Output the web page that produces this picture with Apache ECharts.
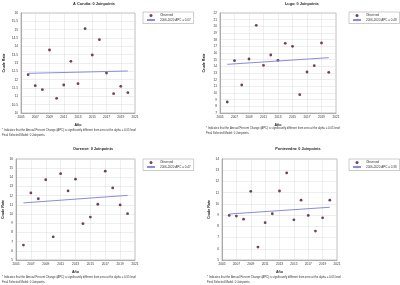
<!DOCTYPE html>
<html>
<head>
<meta charset="utf-8">
<script src="https://cdn.jsdelivr.net/npm/echarts@6/dist/echarts.min.js"></script>
<style>
  html, body { margin: 0; padding: 0; background: #fff; }
  #chart { width: 400px; height: 285px; }
</style>
</head>
<body>
<div id="chart"></div>
<script>
// observed crude rates, 2006-2020
const years = [2006, 2007, 2008, 2009, 2010, 2011, 2012, 2013, 2014, 2015, 2016, 2017, 2018, 2019, 2020];
const coruna = [12.3, 11.64, 11.4, 13.78, 10.88, 11.68, 13.1, 11.76, 15.06, 13.48, 14.4, 12.4, 11.16, 11.6, 11.22];
const lugo = [8.65, 14.85, 11.2, 15.1, 20.15, 14.15, 15.7, 14.9, 17.45, 17.0, 9.75, 13.15, 14.1, 17.5, 13.1];
const ourense = [6.63, 12.3, 11.67, 13.74, 7.52, 14.4, 12.52, 13.8, 8.96, 9.67, 11.07, 14.67, 12.85, 11.0, 10.04];
const pontevedra = [8.97, 8.91, 8.64, 11.12, 6.15, 8.33, 9.12, 11.15, 12.76, 8.58, 10.33, 8.97, 7.58, 8.76, 10.33];

const titles = ['A Coruña: 0 Joinpoints', 'Lugo: 0 Joinpoints', 'Ourense: 0 Joinpoints', 'Pontevedra: 0 Joinpoints'];
const apcNames = ['2006-2020 APC = 0.07', '2006-2020 APC = 0.48', '2006-2020 APC = 0.47', '2006-2020 APC = 0.38'];
// fitted line ends (2006 and 2020)
const trendStart = [12.38, 14.3, 11.22, 9.1];
const trendEnd = [12.52, 15.3, 12.04, 9.7];
const yMin = [10, 7, 5, 5];
const yMax = [16, 22, 16, 14];
const yStep = [0.5, 1, 1, 1];

const panels = [coruna, lugo, ourense, pontevedra];

// layout of the 4 panels
const grids = [
  { left: 21, top: 13, width: 114, height: 100 },
  { left: 220, top: 13, width: 116, height: 100 },
  { left: 16, top: 159, width: 119, height: 101 },
  { left: 222, top: 159, width: 115, height: 101 }
];
const titlePos = [[94, 2], [302, 2], [93, 147], [298, 147]];
const legendPos = [[143, 12, 54], [349, 12, 49], [143, 159, 52], [349, 159, 46]];
const notePos = [[2, 128], [206, 126], [2, 275], [207, 275]];

const font = 'Liberation Sans, Arial, sans-serif';
const dotColor = '#4a1530';
const lineColor = '#8c8cd8';

const chart = echarts.init(document.getElementById('chart'));

const option = {
  backgroundColor: '#fff',
  animation: false,
  textStyle: { fontFamily: font },
  title: titles.map((t, i) => ({
    text: t,
    left: titlePos[i][0],
    top: titlePos[i][1],
    textAlign: 'center',
    padding: 0,
    textStyle: { fontSize: 3.8, fontWeight: 'bold', color: '#222', fontFamily: font }
  })),
  grid: grids.map(g => Object.assign({ show: true, borderColor: '#999', borderWidth: 0.6, backgroundColor: '#fff' }, g)),
  xAxis: grids.map((g, i) => ({
    type: 'value',
    gridIndex: i,
    min: 2005,
    max: 2021,
    interval: 2,
    name: 'Año',
    nameLocation: 'middle',
    nameGap: 10,
    nameTextStyle: { fontSize: 3.6, fontWeight: 'bold', color: '#222' },
    axisLine: { lineStyle: { color: '#888', width: 0.6 } },
    axisTick: { show: false },
    axisLabel: { fontSize: 3.2, color: '#333', margin: 3, formatter: v => String(v) },
    splitLine: { show: true, lineStyle: { color: '#dcdcdc', width: 0.5 } }
  })),
  yAxis: grids.map((g, i) => ({
    type: 'value',
    gridIndex: i,
    min: yMin[i],
    max: yMax[i],
    interval: yStep[i],
    name: 'Crude Rate',
    nameLocation: 'middle',
    nameGap: i === 0 ? 15 : (i === 1 ? 14 : 11),
    nameRotate: 90,
    nameTextStyle: { fontSize: 3.6, fontWeight: 'bold', color: '#222' },
    axisLine: { show: true, lineStyle: { color: '#888', width: 0.6 } },
    axisTick: { show: false },
    axisLabel: { fontSize: 3.2, color: '#333', margin: 3 },
    splitLine: { show: true, lineStyle: { color: '#dcdcdc', width: 0.5 } }
  })),
  legend: legendPos.map((p, i) => ({
    left: p[0],
    top: p[1],
    width: p[2],
    orient: 'vertical',
    itemWidth: 8,
    itemHeight: 3,
    itemGap: 1.5,
    padding: [2, 3, 2, 3],
    borderColor: '#999',
    borderWidth: 0.5,
    textStyle: { fontSize: 3, color: '#333' },
    data: ['Observed', apcNames[i]]
  })),
  graphic: notePos.map(p => ({
    type: 'text',
    left: p[0],
    top: p[1],
    style: {
      text: '* Indicates that the Annual Percent Change (APC) is significantly different from zero at the alpha = 0.05 level\nFinal Selected Model: 0 Joinpoints.',
      fontSize: 2.8,
      lineHeight: 5,
      fill: '#333',
      fontFamily: font
    }
  })),
  series: []
};

panels.forEach((vals, i) => {
  option.series.push({
    name: 'Observed',
    type: 'scatter',
    xAxisIndex: i,
    yAxisIndex: i,
    symbol: 'circle',
    symbolSize: 2.8,
    itemStyle: { color: dotColor },
    data: years.map((y, k) => [y, vals[k]])
  });
  option.series.push({
    name: apcNames[i],
    type: 'line',
    xAxisIndex: i,
    yAxisIndex: i,
    symbol: 'none',
    lineStyle: { color: lineColor, width: 1 },
    itemStyle: { color: lineColor },
    data: [[years[0], trendStart[i]], [years[years.length - 1], trendEnd[i]]]
  });
});

chart.setOption(option);
</script>
</body>
</html>
